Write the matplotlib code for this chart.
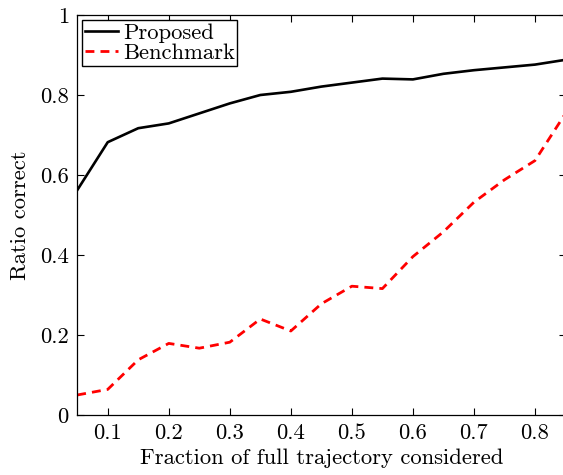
import matplotlib
matplotlib.use("Agg")
import matplotlib.pyplot as plt

fraction = [0.05, 0.10, 0.15, 0.20, 0.25, 0.30, 0.35, 0.40, 0.45,
            0.50, 0.55, 0.60, 0.65, 0.70, 0.75, 0.80, 0.85]
proposed = [0.562, 0.682, 0.717, 0.729, 0.754, 0.779, 0.800, 0.808, 0.821,
            0.831, 0.841, 0.839, 0.853, 0.862, 0.869, 0.876, 0.888]
benchmark = [0.050, 0.064, 0.138, 0.179, 0.167, 0.182, 0.240, 0.210, 0.278,
             0.322, 0.316, 0.396, 0.458, 0.532, 0.588, 0.636, 0.754]
xticks = [0.1, 0.2, 0.3, 0.4, 0.5, 0.6, 0.7, 0.8]
xticklabels = ["0.1", "0.2", "0.3", "0.4", "0.5", "0.6", "0.7", "0.8"]
yticks = [0, 0.2, 0.4, 0.6, 0.8, 1.0]
yticklabels = ["0", "0.2", "0.4", "0.6", "0.8", "1"]

plt.rcParams['font.family'] = 'serif'
plt.rcParams['font.serif'] = ['cmr10', 'DejaVu Serif']
plt.rcParams['mathtext.fontset'] = 'cm'
plt.rcParams['axes.unicode_minus'] = False
plt.rcParams['axes.formatter.use_mathtext'] = True

W, H = 563, 475
fig = plt.figure(figsize=(W / 100, H / 100), dpi=100)
left, right, top, bottom = 77.2, 565.5, 15, 415
ax = fig.add_axes([left / W, 1 - bottom / H, (right - left) / W, (bottom - top) / H])

ax.plot(fraction, proposed, color='black', lw=1.9, label='Proposed')
ax.plot(fraction, benchmark, color='red', lw=2.0, linestyle=(0, (3.2, 2.2)), label='Benchmark')

ax.set_xlim(0.05, 0.85)
ax.set_ylim(0, 1)
fs = 16.3
ax.set_xticks(xticks)
ax.set_xticklabels(xticklabels, fontsize=fs)
ax.set_yticks(yticks)
ax.set_yticklabels(yticklabels, fontsize=fs)
ax.tick_params(direction='in', top=True, right=True, length=5, width=0.8, pad=6)
for s in ax.spines.values():
    s.set_linewidth(0.9)

ax.set_xlabel('Fraction of full trajectory considered', fontsize=fs, labelpad=4)
ax.set_ylabel('Ratio correct', fontsize=fs, labelpad=7)

leg = ax.legend(loc='upper left', fontsize=fs, handlelength=1.45, handletextpad=0.22,
                borderpad=0.12, labelspacing=0.02, borderaxespad=0.22, fancybox=False,
                frameon=True, edgecolor='black', framealpha=1)
leg.get_frame().set_linewidth(1.0)

fig.savefig('out.png', dpi=100)
